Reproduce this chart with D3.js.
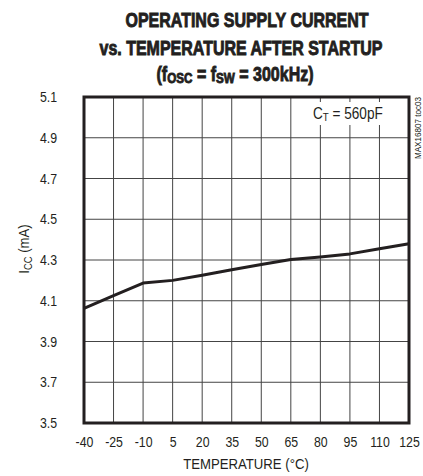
<!DOCTYPE html>
<html><head><meta charset="utf-8">
<script src="https://cdn.jsdelivr.net/npm/d3@7"></script>
<style>
body{margin:0;background:#fff;}
text{font-family:"Liberation Sans","Arial",sans-serif;fill:#231f20;}
</style></head>
<body><svg id="c" width="423" height="476"></svg>
<script>
const temps = [-40, -25, -10, 5, 20, 35, 50, 65, 80, 95, 110, 125];
const icc   = [4.063, 4.125, 4.187, 4.20, 4.225, 4.252, 4.278, 4.302, 4.315, 4.33, 4.355, 4.38];
const xTicks = [-40, -25, -10, 5, 20, 35, 50, 65, 80, 95, 110, 125];
const yTicks = [3.5, 3.7, 3.9, 4.1, 4.3, 4.5, 4.7, 4.9, 5.1];

const svg = d3.select("#c");
const L = 84, R = 409, T = 97, B = 423;
const x = d3.scaleLinear().domain([-40, 125]).range([L, R]);
const y = d3.scaleLinear().domain([3.5, 5.1]).range([B, T]);
const SX = 0.85;

// title
const title = svg.append("g").attr("font-weight", "bold").attr("text-anchor", "middle")
  .style("font-size", "20.5px");
function tline(cx, cy) {
  return title.append("text").attr("transform", `translate(${cx},${cy}) scale(0.78,1)`);
}
tline(247, 27).text("OPERATING SUPPLY CURRENT");
tline(241, 55).text("vs. TEMPERATURE AFTER STARTUP");
const t3 = tline(235, 81);
t3.append("tspan").text("(f");
t3.append("tspan").attr("font-size", "15px").attr("dy", 2).text("OSC");
t3.append("tspan").attr("dy", -2).text(" = f");
t3.append("tspan").attr("font-size", "15px").attr("dy", 2).text("SW");
t3.append("tspan").attr("dy", -2).text(" = 300kHz)");
title.selectAll("text").attr("stroke", "#231f20").attr("stroke-width", 0.9);

// grid
svg.append("g").selectAll("line").data(xTicks.slice(1, -1)).join("line")
  .attr("x1", d => x(d)).attr("x2", d => x(d)).attr("y1", T).attr("y2", B)
  .attr("stroke", "#444").attr("stroke-width", 1);
svg.append("g").selectAll("line").data(yTicks.slice(1, -1)).join("line")
  .attr("y1", d => y(d)).attr("y2", d => y(d)).attr("x1", L).attr("x2", R)
  .attr("stroke", "#444").attr("stroke-width", 1);

// axes via d3
const xAxis = svg.append("g").attr("transform", `translate(0,${B})`)
  .call(d3.axisBottom(x).tickValues(xTicks).tickSize(0).tickPadding(14).tickFormat(d => String(d)));
const yAxis = svg.append("g").attr("transform", `translate(${L},0)`)
  .call(d3.axisLeft(y).tickValues(yTicks).tickSize(0).tickPadding(27).tickFormat(d3.format(".1f")));
[xAxis, yAxis].forEach(a => {
  a.select(".domain").remove();
  a.selectAll("text").style("font-size", "14.5px").attr("fill", "#231f20")
    .style("font-family", '"Liberation Sans",Arial,sans-serif')
    .attr("transform", `scale(${SX},1)`);
});
yAxis.selectAll("text").attr("x", -27 / SX);

// label background
svg.append("rect").attr("x", 309).attr("y", 102).attr("width", 86).attr("height", 23).attr("fill", "#fff");

// frame
svg.append("rect").attr("x", L).attr("y", T).attr("width", R - L).attr("height", B - T)
  .attr("fill", "none").attr("stroke", "#231f20").attr("stroke-width", 3);

// data line
svg.append("path").datum(temps.map((t, i) => [t, icc[i]]))
  .attr("d", d3.line().x(d => x(d[0])).y(d => y(d[1])))
  .attr("fill", "none").attr("stroke", "#231f20").attr("stroke-width", 3)
  .attr("stroke-linejoin", "round");

// labels
svg.append("text").attr("transform", `translate(246,469) scale(${SX},1)`).attr("text-anchor", "middle")
  .style("font-size", "15.5px").text("TEMPERATURE (°C)");
const yl = svg.append("text").attr("transform", `translate(29,249) rotate(-90) scale(${SX},1)`)
  .attr("text-anchor", "middle").style("font-size", "15.5px");
yl.append("tspan").text("I");
yl.append("tspan").attr("font-size", "11px").attr("dy", 3).text("CC");
yl.append("tspan").attr("dy", -3).text(" (mA)");

const ct = svg.append("text").attr("transform", `translate(313,119) scale(${SX},1)`).style("font-size", "16px");
ct.append("tspan").text("C");
ct.append("tspan").attr("font-size", "11.5px").attr("dy", 2).text("T");
ct.append("tspan").attr("dy", -2).text(" = 560pF");

svg.append("text").attr("transform", "translate(421,97) rotate(-90) scale(0.9,1)")
  .attr("text-anchor", "end").style("font-size", "9px").text("MAX16807 toc03");
</script></body></html>
